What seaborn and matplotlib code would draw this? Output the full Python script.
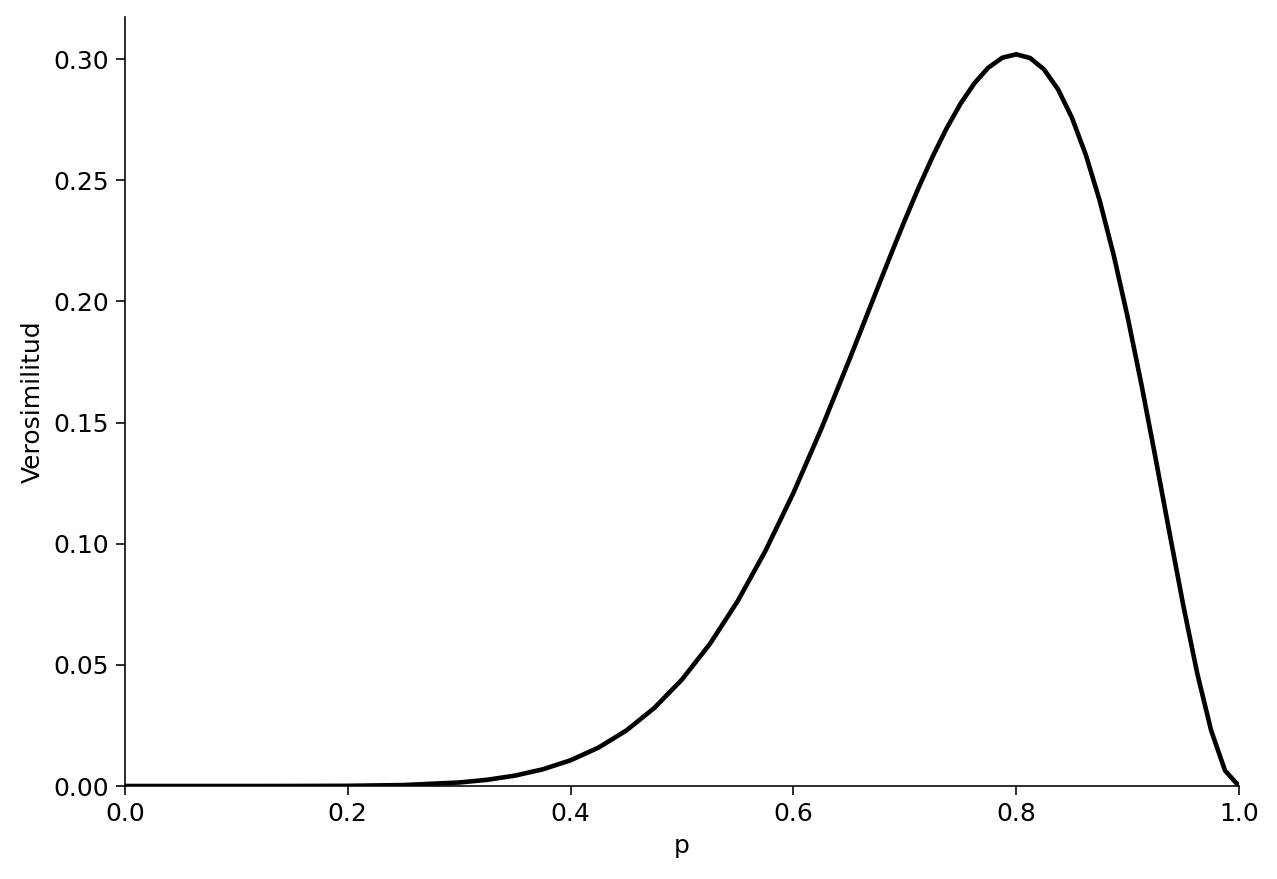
import numpy as np
import pandas as pd
import matplotlib
matplotlib.use("Agg")
import matplotlib.pyplot as plt
import seaborn as sns

# values (likelihood vs p)
p_values = [0.0, 0.05, 0.1, 0.15, 0.2, 0.25, 0.3, 0.325, 0.35, 0.375, 0.4,
            0.425, 0.45, 0.475, 0.5, 0.525, 0.55, 0.575, 0.6, 0.625, 0.65,
            0.6625, 0.675, 0.6875, 0.7, 0.7125, 0.725, 0.7375, 0.75, 0.7625,
            0.775, 0.7875, 0.8, 0.8125, 0.825, 0.8375, 0.85, 0.8625, 0.875,
            0.8875, 0.9, 0.9125, 0.925, 0.9375, 0.95, 0.9625, 0.975, 0.9875, 1.0]
likelihood = [0.0, 0.0, 0.0000004, 0.0000083, 0.000074, 0.000386, 0.001447,
              0.002552, 0.004281, 0.006874, 0.010617, 0.015836, 0.022889,
              0.032143, 0.043945, 0.058596, 0.076302, 0.097125, 0.120932,
              0.147338, 0.175649, 0.190218, 0.204837, 0.219328, 0.233474,
              0.247040, 0.259769, 0.271374, 0.281568, 0.290039, 0.296477,
              0.300564, 0.301990, 0.300470, 0.295747, 0.287607, 0.275897,
              0.260549, 0.241600, 0.219212, 0.193710, 0.165612, 0.135665,
              0.104892, 0.074635, 0.046610, 0.022968, 0.006358, 0.0]

df = pd.DataFrame({"p": p_values, "Verosimilitud": likelihood})

plt.rcParams["font.size"] = 12.5
plt.rcParams["xtick.major.size"] = 4.5
plt.rcParams["ytick.major.size"] = 4.5

fig, ax = plt.subplots(figsize=(1277 / 144, 879 / 144), dpi=144)
sns.lineplot(data=df, x="p", y="Verosimilitud", color="black", linewidth=2.3, ax=ax)
ax.set_xlim(0, 1)
ax.set_ylim(0, 0.3174)
sns.despine()
fig.subplots_adjust(left=0.0979, right=0.9702, top=0.9807, bottom=0.1058)
fig.savefig("out.png", dpi=144)
